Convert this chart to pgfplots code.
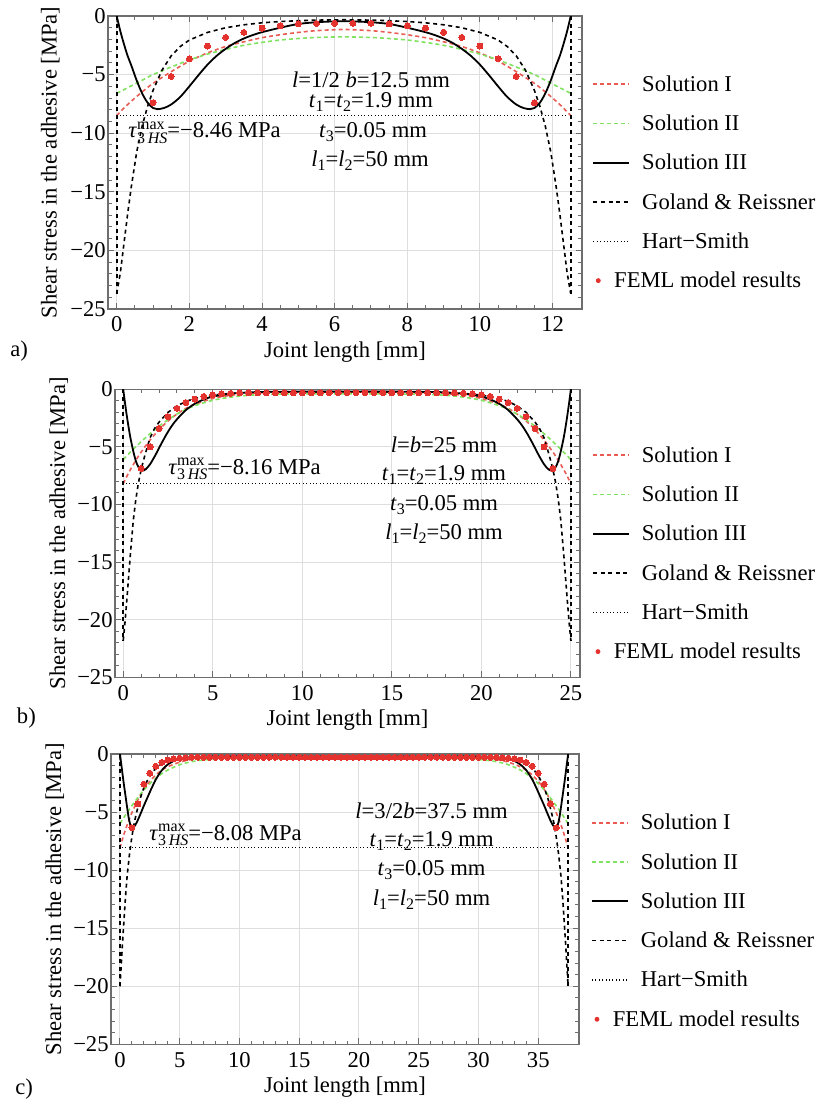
\documentclass[border=0pt]{standalone}
\usepackage{fontspec}
\setmainfont{Liberation Serif}
\usepackage{pgfplots}
\pgfplotsset{compat=1.18}
\definecolor{solI}{RGB}{232,92,84}
\definecolor{solII}{RGB}{128,226,96}
\definecolor{feml}{RGB}{228,50,46}
\definecolor{gridc}{RGB}{222,222,222}
\definecolor{framec}{RGB}{110,110,110}
\newcommand{\sub}[1]{\raisebox{-0.4ex}{\fontsize{8}{9}\selectfont #1}}
\newcommand{\tauHS}{\textit{τ}\rlap{\raisebox{0.8ex}{\fontsize{8}{9}\selectfont max}}\raisebox{-0.55ex}{\fontsize{8}{9}\selectfont 3\,\textit{HS}}}
\newcommand{\mainfs}{\fontsize{11.3}{13.6}\selectfont}
\pgfplotsset{
 myaxis/.style={
  scale only axis, anchor=north west,
  /pgf/number format/assume math mode=true,
  ymin=-25, ymax=0, ytick={-25,-20,-15,-10,-5,0}, yticklabels={−25,−20,−15,−10,−5,0},
  minor y tick num=4,
  grid=major, major grid style={gridc, line width=0.5pt},
  axis line style={framec, line width=0.6pt},
  tick style={framec, line width=0.5pt},
  major tick length=3pt, minor tick length=1.8pt,
  tick label style={font=\mainfs, black},
  yticklabel style={inner xsep=1pt},
  xlabel={Joint length [mm]}, ylabel={Shear stress in the adhesive [MPa]},
  every axis x label/.style={at={(axis description cs:0.5,0)}, anchor=base, yshift=-24pt, font=\mainfs},
  legend cell align=left,
  legend image code/.code={\draw[##1] (0pt,0pt) -- (18pt,0pt);},
  legend style={draw=none, fill=none, anchor=north west, inner sep=0pt, row sep=6.65pt, font=\mainfs,
    nodes={inner xsep=1pt, inner ysep=1pt, text height=9pt, text depth=2pt},
    /tikz/every odd column/.append style={column sep=5pt}},
 },
 ylab/.style={every axis y label/.style={at={(axis description cs:#1,0.5)}, rotate=90, anchor=base, font=\mainfs}},
 sI/.style={solI, line width=0.8pt, dash pattern=on 2pt off 1.5pt, smooth},
 sII/.style={solII, line width=0.8pt, dash pattern=on 2pt off 1.5pt, smooth},
 sIII/.style={black, line width=0.9pt, smooth},
 gr/.style={black, line width=0.8pt, dash pattern=on 2pt off 1.8pt},
 hs/.style={black, line width=0.6pt, dash pattern=on 0.5pt off 1.2pt},
 fe/.style={only marks, mark=*, mark size=1.5pt, feml, mark options={fill=feml, draw=feml, line width=0pt}},
}
\begin{document}
\mainfs
\begin{tikzpicture}
\path[use as bounding box] (0pt,0pt) rectangle (408.5pt,-552.5pt);
% ---------------- panel a ----------------
\begin{axis}[myaxis, ylab=-0.1082, at={(54pt,-8pt)}, width=237pt, height=146.5pt,
  xmin=-0.24, xmax=12.81, xtick={0,2,...,12}, minor x tick num=3,
  legend style={at={(axis description cs:1.0211,0.8133)}}]
\addplot[sI] coordinates {(0,-8.5) (0.25,-7.7) (0.5,-7.0) (0.75,-6.35) (1,-5.75) (1.5,-4.75) (2,-3.85) (2.5,-3.15) (3,-2.6) (3.5,-2.2) (4,-1.85) (4.5,-1.6) (5,-1.4) (5.5,-1.25) (6.25,-1.15) (7,-1.25) (7.5,-1.4) (8,-1.6) (8.5,-1.85) (9,-2.2) (9.5,-2.6) (10,-3.15) (10.5,-3.85) (11,-4.75) (11.5,-5.75) (11.75,-6.35) (12,-7.0) (12.25,-7.7) (12.5,-8.5)};
\addlegendentry{Solution I}
\addplot[sII] coordinates {(0,-6.6) (0.25,-6.2) (0.5,-5.8) (0.75,-5.4) (1,-5.0) (1.5,-4.35) (2,-3.75) (2.5,-3.25) (3,-2.85) (3.5,-2.5) (4,-2.25) (4.5,-2.05) (5,-1.92) (5.5,-1.83) (6.25,-1.78) (7,-1.83) (7.5,-1.92) (8,-2.05) (8.5,-2.25) (9,-2.5) (9.5,-2.85) (10,-3.25) (10.5,-3.75) (11,-4.35) (11.5,-5.0) (11.75,-5.4) (12,-5.8) (12.25,-6.2) (12.5,-6.6)};
\addlegendentry{Solution II}
\addplot[sIII] coordinates {(0,0) (0.1,-1.3) (0.2,-2.4) (0.3,-3.4) (0.4,-4.2) (0.55,-5.5) (0.7,-6.6) (0.85,-7.4) (1,-7.85) (1.12,-7.95) (1.3,-7.85) (1.5,-7.55) (1.75,-6.9) (2,-6.0) (2.25,-5.05) (2.5,-4.15) (2.75,-3.4) (3,-2.8) (3.25,-2.3) (3.5,-1.92) (3.75,-1.62) (4,-1.38) (4.5,-1.0) (5,-0.68) (5.5,-0.53) (6,-0.46) (6.25,-0.45) (6.5,-0.46) (7,-0.53) (7.5,-0.68) (8,-1.0) (8.5,-1.38) (8.75,-1.62) (9,-1.92) (9.25,-2.3) (9.5,-2.8) (9.75,-3.4) (10,-4.15) (10.25,-5.05) (10.5,-6.0) (10.75,-6.9) (11,-7.55) (11.2,-7.85) (11.38,-7.95) (11.5,-7.85) (11.65,-7.4) (11.8,-6.6) (11.95,-5.5) (12.1,-4.2) (12.2,-3.4) (12.3,-2.4) (12.4,-1.3) (12.5,0)};
\addlegendentry{Solution III}
\addplot[gr] coordinates {(0,-23.7) (0.1,-21.9) (0.2,-19.4) (0.3,-16.9) (0.4,-14.6) (0.55,-11.6) (0.7,-9.4) (0.85,-7.7) (1,-6.35) (1.25,-4.6) (1.5,-3.4) (1.75,-2.6) (2,-2.05) (2.5,-1.4) (3,-1.0) (3.5,-0.75) (4,-0.58) (4.5,-0.47) (5,-0.4) (5.5,-0.35) (6.25,-0.32) (7,-0.35) (7.5,-0.4) (8,-0.47) (8.5,-0.58) (9,-0.75) (9.5,-1.0) (10,-1.4) (10.5,-2.05) (10.75,-2.6) (11,-3.4) (11.25,-4.6) (11.5,-6.35) (11.65,-7.7) (11.8,-9.4) (11.95,-11.6) (12.1,-14.6) (12.2,-16.9) (12.3,-19.4) (12.4,-21.9) (12.5,-23.7)};
\addlegendentry{Goland \& Reissner}
\addplot[hs] coordinates {(0.08,-8.46) (12.42,-8.46)};
\addlegendentry{Hart−Smith}
\addplot[fe, legend image code/.code={\fill[feml] (2.5pt,0pt) circle (1pt);}] coordinates {(1,-7.4) (1.5,-5.15) (2,-3.65) (2.5,-2.56) (3,-1.82) (3.5,-1.39) (4,-1.03) (4.5,-0.85) (5,-0.68) (5.5,-0.63) (6,-0.62) (6.5,-0.62) (7,-0.63) (7.5,-0.68) (8,-0.85) (8.5,-1.03) (9,-1.39) (9.5,-1.82) (10,-2.56) (10.5,-3.65) (11,-5.15) (11.5,-7.4)};
\addlegendentry{\hspace*{-14pt}FEML model results}
\addplot[gr, forget plot] coordinates {(0,0) (0,-23.7)};
\addplot[gr, forget plot] coordinates {(12.5,0) (12.5,-23.7)};
\end{axis}
% ---------------- panel b ----------------
\begin{axis}[myaxis, ylab=-0.1075, at={(57.5pt,-194.65pt)}, width=232.5pt, height=144pt,
  xmin=-0.46, xmax=25.51, xtick={0,5,...,25}, minor x tick num=4,
  legend style={at={(axis description cs:1.0251,0.818)}}]
\addplot[sI] coordinates {(0,-8.2) (0.25,-7.4) (0.5,-6.7) (0.75,-6.05) (1,-5.45) (1.5,-4.4) (2,-3.5) (2.5,-2.75) (3,-2.15) (3.5,-1.65) (4,-1.3) (5,-0.8) (6,-0.52) (7,-0.37) (8,-0.3) (10,-0.25) (12.5,-0.24) (15,-0.25) (17,-0.3) (18,-0.37) (19,-0.52) (20,-0.8) (21,-1.3) (21.5,-1.65) (22,-2.15) (22.5,-2.75) (23,-3.5) (23.5,-4.4) (24,-5.45) (24.25,-6.05) (24.5,-6.7) (24.75,-7.4) (25,-8.2)};
\addlegendentry{Solution I}
\addplot[sII] coordinates {(0,-6.1) (0.5,-5.3) (1,-4.55) (1.5,-3.85) (2,-3.2) (2.5,-2.65) (3,-2.15) (3.5,-1.75) (4,-1.42) (5,-0.95) (6,-0.68) (7,-0.52) (8,-0.45) (10,-0.4) (12.5,-0.4) (15,-0.4) (17,-0.45) (18,-0.52) (19,-0.68) (20,-0.95) (21,-1.42) (21.5,-1.75) (22,-2.15) (22.5,-2.65) (23,-3.2) (23.5,-3.85) (24,-4.55) (24.5,-5.3) (25,-6.1)};
\addlegendentry{Solution II}
\addplot[sIII] coordinates {(0,0) (0.1,-1.2) (0.2,-2.3) (0.3,-3.3) (0.4,-4.2) (0.55,-5.3) (0.7,-6.2) (0.85,-6.75) (1.05,-7.05) (1.25,-6.95) (1.5,-6.5) (1.8,-5.7) (2.1,-4.8) (2.4,-3.95) (2.7,-3.2) (3,-2.6) (3.5,-1.8) (4,-1.25) (4.5,-0.88) (5,-0.63) (6,-0.38) (7,-0.27) (8,-0.22) (10,-0.2) (12.5,-0.2) (15,-0.2) (17,-0.22) (18,-0.27) (19,-0.38) (20,-0.63) (20.5,-0.88) (21,-1.25) (21.5,-1.8) (22,-2.6) (22.3,-3.2) (22.6,-3.95) (22.9,-4.8) (23.2,-5.7) (23.5,-6.5) (23.75,-6.95) (23.95,-7.05) (24.15,-6.75) (24.3,-6.2) (24.45,-5.3) (24.6,-4.2) (24.7,-3.3) (24.8,-2.3) (24.9,-1.2) (25,0)};
\addlegendentry{Solution III}
\addplot[gr] coordinates {(0,-21.8) (0.1,-20.2) (0.2,-18.3) (0.3,-16.3) (0.4,-14.3) (0.56,-11.4) (0.7,-9.6) (0.85,-8.1) (1.04,-6.7) (1.25,-5.5) (1.5,-4.2) (1.75,-3.4) (2,-2.85) (2.5,-2.0) (3,-1.45) (3.5,-1.05) (4,-0.8) (5,-0.5) (6,-0.35) (7,-0.27) (8,-0.22) (12.5,-0.2) (17,-0.22) (18,-0.27) (19,-0.35) (20,-0.5) (21,-0.8) (21.5,-1.05) (22,-1.45) (22.5,-2.0) (23,-2.85) (23.25,-3.4) (23.5,-4.2) (23.75,-5.5) (23.96,-6.7) (24.15,-8.1) (24.3,-9.6) (24.44,-11.4) (24.6,-14.3) (24.7,-16.3) (24.8,-18.3) (24.9,-20.2) (25,-21.8)};
\addlegendentry{Goland \& Reissner}
\addplot[hs] coordinates {(0.15,-8.16) (24.85,-8.16)};
\addlegendentry{Hart−Smith}
\addplot[fe, legend image code/.code={\fill[feml] (2.5pt,0pt) circle (1pt);}] coordinates {(1,-6.87) (1.5,-5.0) (2,-3.4) (2.5,-2.38) (3,-1.65) (3.5,-1.15) (4,-0.85) (4.5,-0.62) (5,-0.48) (5.5,-0.4) (6,-0.35) (6.5,-0.32) (7,-0.3) (7.5,-0.3) (8,-0.3) (8.5,-0.3) (9,-0.3) (9.5,-0.3) (10,-0.3) (10.5,-0.3) (11,-0.3) (11.5,-0.3) (12,-0.3) (12.5,-0.3) (13,-0.3) (13.5,-0.3) (14,-0.3) (14.5,-0.3) (15,-0.3) (15.5,-0.3) (16,-0.3) (16.5,-0.3) (17,-0.3) (17.5,-0.3) (18,-0.3) (18.5,-0.32) (19,-0.35) (19.5,-0.4) (20,-0.48) (20.5,-0.62) (21,-0.85) (21.5,-1.15) (22,-1.65) (22.5,-2.38) (23,-3.4) (23.5,-5.0) (24,-6.87)};
\addlegendentry{\hspace*{-14pt}FEML model results}
\addplot[gr, forget plot] coordinates {(0,0) (0,-21.8)};
\addplot[gr, forget plot] coordinates {(25,0) (25,-21.8)};
\end{axis}
% ---------------- panel c ----------------
\begin{axis}[myaxis, ylab=-0.1068, at={(55.5pt,-377pt)}, width=234pt, height=145.15pt,
  xmin=-0.75, xmax=38.41, xtick={0,5,...,35}, minor x tick num=4,
  legend style={at={(axis description cs:1.025,0.8093)}}]
\addplot[sI] coordinates {(0,-8.1) (0.25,-7.2) (0.5,-6.4) (0.75,-5.7) (1,-5.05) (1.5,-3.95) (2,-3.05) (2.5,-2.35) (3,-1.8) (3.5,-1.4) (4,-1.1) (5,-0.7) (6,-0.47) (7,-0.35) (8,-0.29) (10,-0.25) (18.75,-0.24) (27.5,-0.25) (29.5,-0.29) (30.5,-0.35) (31.5,-0.47) (32.5,-0.7) (33.5,-1.1) (34,-1.4) (34.5,-1.8) (35,-2.35) (35.5,-3.05) (36,-3.95) (36.5,-5.05) (36.75,-5.7) (37,-6.4) (37.25,-7.2) (37.5,-8.1)};
\addlegendentry{Solution I}
\addplot[sII] coordinates {(0,-6.0) (0.5,-5.2) (1,-4.45) (1.5,-3.75) (2,-3.1) (2.5,-2.55) (3,-2.1) (3.5,-1.7) (4,-1.38) (5,-0.92) (6,-0.66) (7,-0.52) (8,-0.45) (10,-0.4) (18.75,-0.4) (27.5,-0.4) (29.5,-0.45) (30.5,-0.52) (31.5,-0.66) (32.5,-0.92) (33.5,-1.38) (34,-1.7) (34.5,-2.1) (35,-2.55) (35.5,-3.1) (36,-3.75) (36.5,-4.45) (37,-5.2) (37.5,-6.0)};
\addlegendentry{Solution II}
\addplot[sIII] coordinates {(0,0) (0.15,-1.2) (0.3,-2.4) (0.45,-3.5) (0.6,-4.6) (0.75,-5.6) (0.95,-6.35) (1.15,-6.3) (1.4,-5.9) (1.7,-5.2) (2,-4.45) (2.3,-3.75) (2.6,-3.05) (3,-2.2) (3.5,-1.4) (4,-0.9) (4.5,-0.6) (5,-0.42) (6,-0.28) (7,-0.22) (9,-0.2) (18.75,-0.2) (28.5,-0.2) (30.5,-0.22) (31.5,-0.28) (32.5,-0.42) (33,-0.6) (33.5,-0.9) (34,-1.4) (34.5,-2.2) (34.9,-3.05) (35.2,-3.75) (35.5,-4.45) (35.8,-5.2) (36.1,-5.9) (36.35,-6.3) (36.55,-6.35) (36.75,-5.6) (36.9,-4.6) (37.05,-3.5) (37.2,-2.4) (37.35,-1.2) (37.5,0)};
\addlegendentry{Solution III}
\addplot[gr] coordinates {(0,-20) (0.1,-18.3) (0.2,-16.5) (0.3,-14.9) (0.45,-12.5) (0.6,-10.5) (0.8,-8.6) (1,-7.1) (1.2,-5.9) (1.4,-5.0) (1.7,-3.8) (2,-2.9) (2.4,-2.05) (2.8,-1.45) (3.3,-1.0) (3.9,-0.66) (5,-0.38) (6,-0.27) (7,-0.22) (9,-0.2) (18.75,-0.2) (28.5,-0.2) (30.5,-0.22) (31.5,-0.27) (32.5,-0.38) (33.6,-0.66) (34.2,-1.0) (34.7,-1.45) (35.1,-2.05) (35.5,-2.9) (35.8,-3.8) (36.1,-5.0) (36.3,-5.9) (36.5,-7.1) (36.7,-8.6) (36.9,-10.5) (37.05,-12.5) (37.2,-14.9) (37.3,-16.5) (37.4,-18.3) (37.5,-20)};
\addlegendentry{Goland \& Reissner}
\addplot[hs] coordinates {(0.15,-8.08) (37.35,-8.08)};
\addlegendentry{Hart−Smith}
\addplot[fe, legend image code/.code={\fill[feml] (2.5pt,0pt) circle (1pt);}] coordinates {(1,-6.35) (1.5,-4.3) (2,-2.6) (2.5,-1.65) (3,-1.05) (3.5,-0.72) (4,-0.52) (4.5,-0.42) (5,-0.36) (5.5,-0.33) (6,-0.28) (6.5,-0.28) (7,-0.28) (7.5,-0.28) (8,-0.28) (8.5,-0.28) (9,-0.28) (9.5,-0.28) (10,-0.28) (10.5,-0.28) (11,-0.28) (11.5,-0.28) (12,-0.28) (12.5,-0.28) (13,-0.28) (13.5,-0.28) (14,-0.28) (14.5,-0.28) (15,-0.28) (15.5,-0.28) (16,-0.28) (16.5,-0.28) (17,-0.28) (17.5,-0.28) (18,-0.28) (18.5,-0.28) (19,-0.28) (19.5,-0.28) (20,-0.28) (20.5,-0.28) (21,-0.28) (21.5,-0.28) (22,-0.28) (22.5,-0.28) (23,-0.28) (23.5,-0.28) (24,-0.28) (24.5,-0.28) (25,-0.28) (25.5,-0.28) (26,-0.28) (26.5,-0.28) (27,-0.28) (27.5,-0.28) (28,-0.28) (28.5,-0.28) (29,-0.28) (29.5,-0.28) (30,-0.28) (30.5,-0.28) (31,-0.28) (31.5,-0.28) (32,-0.33) (32.5,-0.36) (33,-0.42) (33.5,-0.52) (34,-0.72) (34.5,-1.05) (35,-1.65) (35.5,-2.6) (36,-4.3) (36.5,-6.35)};
\addlegendentry{\hspace*{-14pt}FEML model results}
\addplot[gr, forget plot] coordinates {(0,0) (0,-20)};
\addplot[gr, forget plot] coordinates {(37.5,0) (37.5,-20)};
\end{axis}
% ---------------- annotations ----------------
\node[anchor=base west, inner sep=0pt] at (64pt,-68.65pt) {\tauHS=−8.46 MPa};
\node[anchor=base, inner sep=0pt] at (185.5pt,-43.65pt) {\textit{l}=1/2 \textit{b}=12.5 mm};
\node[anchor=base, inner sep=0pt] at (185.5pt,-53.65pt) {\textit{t}\sub{1}=\textit{t}\sub{2}=1.9 mm};
\node[anchor=base, inner sep=0pt] at (186.5pt,-68.85pt) {\textit{t}\sub{3}=0.05 mm};
\node[anchor=base, inner sep=0pt] at (185pt,-83.35pt) {\textit{l}\sub{1}=\textit{l}\sub{2}=50 mm};
\node[anchor=base west, inner sep=0pt] at (84pt,-237pt) {\tauHS=−8.16 MPa};
\node[anchor=base, inner sep=0pt] at (222pt,-226.35pt) {\textit{l}=\textit{b}=25 mm};
\node[anchor=base, inner sep=0pt] at (222pt,-240.35pt) {\textit{t}\sub{1}=\textit{t}\sub{2}=1.9 mm};
\node[anchor=base, inner sep=0pt] at (222pt,-255pt) {\textit{t}\sub{3}=0.05 mm};
\node[anchor=base, inner sep=0pt] at (222pt,-269.5pt) {\textit{l}\sub{1}=\textit{l}\sub{2}=50 mm};
\node[anchor=base west, inner sep=0pt] at (74.5pt,-420pt) {\tauHS=−8.08 MPa};
\node[anchor=base, inner sep=0pt] at (215.8pt,-409pt) {\textit{l}=3/2\textit{b}=37.5 mm};
\node[anchor=base, inner sep=0pt] at (215.8pt,-423.35pt) {\textit{t}\sub{1}=\textit{t}\sub{2}=1.9 mm};
\node[anchor=base, inner sep=0pt] at (215.8pt,-437.85pt) {\textit{t}\sub{3}=0.05 mm};
\node[anchor=base, inner sep=0pt] at (215.8pt,-452.5pt) {\textit{l}\sub{1}=\textit{l}\sub{2}=50 mm};
\node[anchor=base west, inner sep=0pt] at (5pt,-178pt) {a)};
\node[anchor=base west, inner sep=0pt] at (8.3pt,-361.5pt) {b)};
\node[anchor=base west, inner sep=0pt] at (7.5pt,-547pt) {c)};
\end{tikzpicture}
\end{document}
